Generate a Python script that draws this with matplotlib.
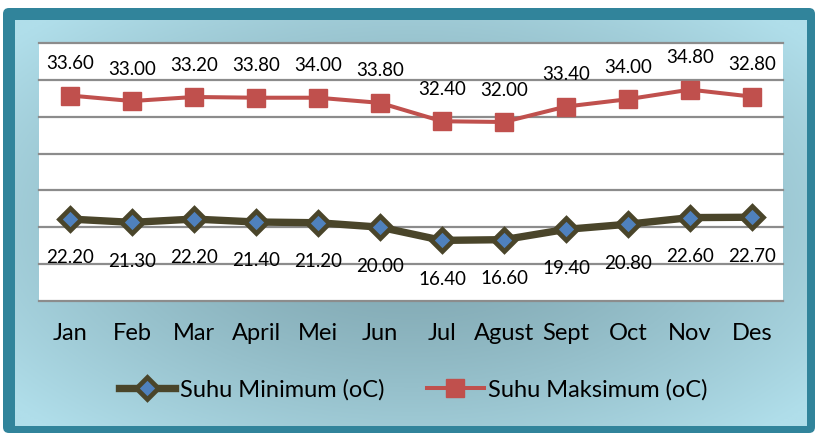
import matplotlib.pyplot as plt
import numpy as np
from matplotlib.patches import FancyBboxPatch

# data
bulan = ['Jan', 'Feb', 'Mar', 'April', 'Mei', 'Jun', 'Jul', 'Agust', 'Sept', 'Oct', 'Nov', 'Des']
suhu_min = [22.2, 21.3, 22.2, 21.4, 21.2, 20.0, 16.4, 16.6, 19.4, 20.8, 22.6, 22.7]
suhu_max = [33.6, 33.0, 33.2, 33.8, 34.0, 33.8, 32.4, 32.0, 33.4, 34.0, 34.8, 32.8]

W, H = 815, 433
fig = plt.figure(figsize=(W / 100, H / 100), dpi=100)

# background frame
bg = fig.add_axes([0, 0, 1, 1])
bg.set_xlim(0, W)
bg.set_ylim(H, 0)
bg.axis('off')
bg.add_patch(FancyBboxPatch((3, 8), W - 3, H - 8, boxstyle='round,pad=0,rounding_size=6',
                            fc='#31849b', ec='none'))
# radial gradient inside the frame
x0, x1, y0, y1 = 15, 807, 20, 426
gx, gy = np.meshgrid(np.linspace(-1, 1, 400), np.linspace(-1, 1, 200))
r = np.clip(np.sqrt((gx * 0.95) ** 2 + (gy * 0.9) ** 2) / 1.25, 0, 1)
c_in = np.array([0x7c, 0xa2, 0xac]) / 255
c_out = np.array([0xb0, 0xde, 0xea]) / 255
img = c_in[None, None, :] + (c_out - c_in)[None, None, :] * r[..., None] ** 1.3
bg.imshow(img, extent=(x0, x1, y1, y0), aspect='auto', zorder=1)

# plot area
left, right, top, bottom = 39, 783, 43.3, 300.7
ax = fig.add_axes([left / W, 1 - bottom / H, (right - left) / W, (bottom - top) / H])
ax.set_facecolor('white')
ax.set_xlim(-0.5, 11.5)
ax.set_ylim(0, 70)
for s in ax.spines.values():
    s.set_visible(False)
for yv in range(0, 71, 10):
    ax.axhline(yv, color='#8c8c8c', lw=1.6, clip_on=False, zorder=1)
ax.set_yticks([])

x = np.arange(len(bulan))
# stacked line chart (max is stacked on top of min)
stacked_max = np.array(suhu_min) + np.array(suhu_max)

ln_min, = ax.plot(x, suhu_min, color='#4a452a', lw=5.3, marker='D', ms=11.5,
                  mfc='#4f81bd', mec='#4a452a', mew=3.4, zorder=3,
                  label='Suhu Minimum (oC)')
ln_max, = ax.plot(x, stacked_max, color='#c0504d', lw=2.9, marker='s', ms=13,
                  mfc='#c0504d', mec='#c0504d', zorder=3,
                  label='Suhu Maksimum (oC)')

for xi, yv, v in zip(x, stacked_max, suhu_max):
    ax.annotate(f'{v:.2f}', (xi, yv), xytext=(0, 23), textcoords='offset points',
                ha='center', va='center', fontsize=13.5, family='Lato', color='black')
for xi, yv, v in zip(x, suhu_min, suhu_min):
    ax.annotate(f'{v:.2f}', (xi, yv), xytext=(0, -28), textcoords='offset points',
                ha='center', va='center', fontsize=13.5, family='Lato', color='black')

ax.set_xticks(x)
ax.set_xticklabels(bulan, fontsize=17, family='Lato')
ax.tick_params(axis='x', length=0, pad=16)

fig.legend(handles=[ln_min, ln_max], loc='center', bbox_to_anchor=(0.507, 1 - 390 / H),
           ncol=2, frameon=False, prop={'family': 'Lato', 'size': 17},
           handlelength=2.4, handletextpad=0.2, columnspacing=1.8)

fig.savefig('out.png', dpi=100)
